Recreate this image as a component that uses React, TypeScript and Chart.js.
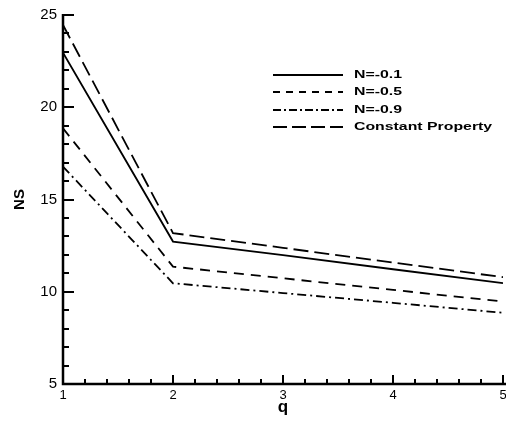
import React, { useEffect, useRef } from 'react';
import { Chart, registerables } from 'chart.js';
Chart.register(...registerables);

const qValues = [1, 2, 3, 4, 5];
const nsN01 = [22.95, 12.72, 11.98, 11.22, 10.47];
const nsN05 = [18.86, 11.36, 10.73, 10.1, 9.47];
const nsN09 = [16.78, 10.46, 9.93, 9.4, 8.86];
const nsConst = [24.46, 13.18, 12.38, 11.58, 10.79];
const seriesLabels = ['N=-0.1', 'N=-0.5', 'N=-0.9', 'Constant Property'];
const seriesDashes = [[], [10, 7], [9, 4, 2, 4], [15, 6]];
const legendDashes = [[], [7, 6], [8, 3, 2, 3], [14, 5]];
const yMin = 5, yMax = 25, yMajor = 5, yMinor = 1;
const xMin = 1, xMax = 5, xMajor = 1, xMinor = 0.2;

const FONT = '"Liberation Sans", Arial, sans-serif';

const innerAxesPlugin = {
  id: 'innerAxes',
  afterDraw(chart: any) {
    const { ctx, chartArea, scales } = chart;
    const x = scales.x, y = scales.y;
    ctx.save();
    ctx.strokeStyle = '#000';
    ctx.lineCap = 'butt';
    ctx.lineWidth = 2;
    const nY = Math.round((yMax - yMin) / yMinor);
    for (let i = 0; i <= nY; i++) {
      const v = yMin + i * yMinor;
      const py = Math.round(y.getPixelForValue(v));
      const major = Math.abs(v / yMajor - Math.round(v / yMajor)) < 1e-6;
      const len = major ? 11 : 6;
      ctx.beginPath();
      ctx.moveTo(chartArea.left, py);
      ctx.lineTo(chartArea.left + len, py);
      ctx.stroke();
    }
    const nX = Math.round((xMax - xMin) / xMinor);
    for (let i = 0; i <= nX; i++) {
      const v = xMin + i * xMinor;
      const px = Math.round(x.getPixelForValue(v));
      const major = i % Math.round(xMajor / xMinor) === 0;
      const len = major ? 9 : 5;
      ctx.beginPath();
      ctx.moveTo(px, chartArea.bottom);
      ctx.lineTo(px, chartArea.bottom - len);
      ctx.stroke();
    }
    ctx.lineWidth = 2.5;
    ctx.beginPath();
    ctx.moveTo(chartArea.left, chartArea.top - 1);
    ctx.lineTo(chartArea.left, chartArea.bottom);
    ctx.lineTo(chart.width, chartArea.bottom);
    ctx.stroke();

    // legend
    const rows = [75, 92, 110, 127];
    const lx0 = 273, lx1 = 343, tx = 354;
    ctx.font = 'bold 11px ' + FONT;
    ctx.fillStyle = '#000';
    ctx.textBaseline = 'middle';
    ctx.textAlign = 'left';
    chart.data.datasets.forEach((ds: any, i: number) => {
      ctx.lineWidth = ds.borderWidth;
      ctx.setLineDash(legendDashes[i]);
      ctx.beginPath();
      ctx.moveTo(lx0, rows[i]);
      ctx.lineTo(lx1, rows[i]);
      ctx.stroke();
      ctx.setLineDash([]);
      ctx.save();
      ctx.translate(tx, rows[i]);
      ctx.scale(1.44, 1);
      ctx.fillText(ds.label, 0, 0);
      ctx.restore();
    });
    ctx.restore();
  },
};

export default function App() {
  const ref = useRef<HTMLCanvasElement>(null);
  useEffect(() => {
    const series = [nsN01, nsN05, nsN09, nsConst];
    const chart = new Chart(ref.current as HTMLCanvasElement, {
      type: 'line',
      data: {
        datasets: series.map((s, i) => ({
          label: seriesLabels[i],
          data: qValues.map((q, j) => ({ x: q, y: s[j] })),
          borderColor: '#000',
          backgroundColor: '#000',
          borderWidth: 1.8,
          borderDash: seriesDashes[i],
          pointRadius: 0,
          tension: 0,
          fill: false,
        })),
      },
      options: {
        responsive: false,
        animation: false,
        layout: { padding: { top: 15, right: 3, left: 0, bottom: 0 } },
        plugins: { legend: { display: false }, tooltip: { enabled: false } },
        scales: {
          x: {
            type: 'linear',
            min: xMin,
            max: xMax,
            grid: { display: false, drawTicks: false },
            border: { display: false },
            ticks: {
              stepSize: xMajor,
              color: '#000',
              padding: 4,
              maxRotation: 0,
              font: { family: FONT, size: 13 },
            },
            title: {
              display: true,
              text: 'q',
              color: '#000',
              font: { family: FONT, size: 17, weight: 'bold' },
              padding: { top: 0, bottom: 4.5 },
            },
            afterFit(scale: any) {
              scale.height = 38;
              scale.paddingLeft = 0;
              scale.paddingRight = 0;
            },
          },
          y: {
            type: 'linear',
            min: yMin,
            max: yMax,
            grid: { display: false, drawTicks: false },
            border: { display: false },
            ticks: {
              stepSize: yMajor,
              color: '#000',
              padding: 6,
              font: { family: FONT, size: 15 },
            },
            title: {
              display: true,
              text: 'NS',
              color: '#000',
              font: { family: FONT, size: 15, weight: 'bold' },
              padding: { top: 11, bottom: 0 },
            },
            afterFit(scale: any) {
              scale.width = 63;
              scale.paddingTop = 0;
              scale.paddingBottom = 0;
            },
          },
        },
      },
      plugins: [innerAxesPlugin],
    });
    return () => chart.destroy();
  }, []);
  return (
    <div style={{ position: 'absolute', left: 0, top: 0, width: 506, height: 422, background: '#fff' }}>
      <canvas ref={ref} width={506} height={422} style={{ display: 'block' }} />
    </div>
  );
}
